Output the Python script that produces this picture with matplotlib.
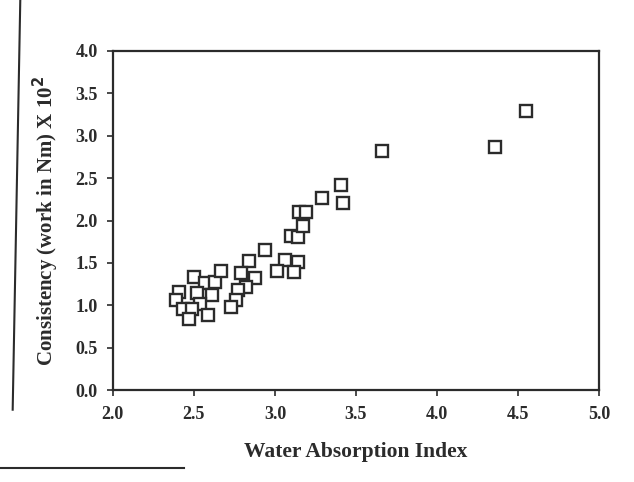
import matplotlib
matplotlib.use("Agg")
import matplotlib.pyplot as plt
from matplotlib.lines import Line2D

# water absorption index vs consistency
wai = [2.50, 2.57, 2.63, 2.67, 2.41, 2.39, 2.52, 2.61, 2.54, 2.43, 2.49, 2.47,
       2.59, 2.84, 2.79, 2.88, 2.82, 2.77, 2.76, 2.73, 2.94, 3.06, 3.14, 3.01,
       3.12, 3.10, 3.14, 3.17, 3.15, 3.19, 3.29, 3.41, 3.42, 3.66, 4.36, 4.55]
consistency = [1.33, 1.27, 1.28, 1.40, 1.16, 1.07, 1.15, 1.12, 1.02, 0.96, 0.96, 0.84,
               0.89, 1.52, 1.38, 1.32, 1.22, 1.18, 1.07, 0.98, 1.65, 1.54, 1.51, 1.41,
               1.39, 1.82, 1.81, 1.94, 2.10, 2.10, 2.27, 2.42, 2.21, 2.82, 2.86, 3.29]

x_ticks = [2.0, 2.5, 3.0, 3.5, 4.0, 4.5, 5.0]
y_ticks = [0.0, 0.5, 1.0, 1.5, 2.0, 2.5, 3.0, 3.5, 4.0]

plt.rcParams['font.family'] = ['Liberation Serif', 'DejaVu Serif']
ink = '#2b2b2b'

fig = plt.figure(figsize=(6.34, 4.82), dpi=100)
ax = fig.add_axes([0.178, 0.19, 0.767, 0.705])

ax.plot(wai, consistency, linestyle='none', marker='s', markersize=9,
        markerfacecolor='white', markeredgecolor=ink, markeredgewidth=1.7)

ax.set_xlim(2.0, 5.0)
ax.set_ylim(0.0, 4.0)
ax.set_xticks(x_ticks)
ax.set_yticks(y_ticks)
ax.set_xticklabels(['%.1f' % v for v in x_ticks])
ax.set_yticklabels(['%.1f' % v for v in y_ticks])
ax.tick_params(direction='out', length=4, width=1.2, colors=ink,
               labelsize=13, pad=7)
for lbl in ax.get_xticklabels() + ax.get_yticklabels():
    lbl.set_fontweight('bold')
for sp in ax.spines.values():
    sp.set_linewidth(1.6)
    sp.set_color(ink)

ax.set_xlabel('Water Absorption Index', fontsize=15.5, fontweight='bold',
              color=ink, labelpad=14)
ax.set_ylabel('Consistency (work in Nm) X 10$^\\mathbf{2}$', fontsize=15,
              fontweight='bold', color=ink, labelpad=10)

# page edges visible in the scan
fig.add_artist(Line2D([0.032, 0.02], [1.0, 0.15], color=ink, linewidth=1.5))
fig.add_artist(Line2D([0.0, 0.29], [0.03, 0.03], color=ink, linewidth=1.5))

fig.savefig('out.png', dpi=100, facecolor='white')
